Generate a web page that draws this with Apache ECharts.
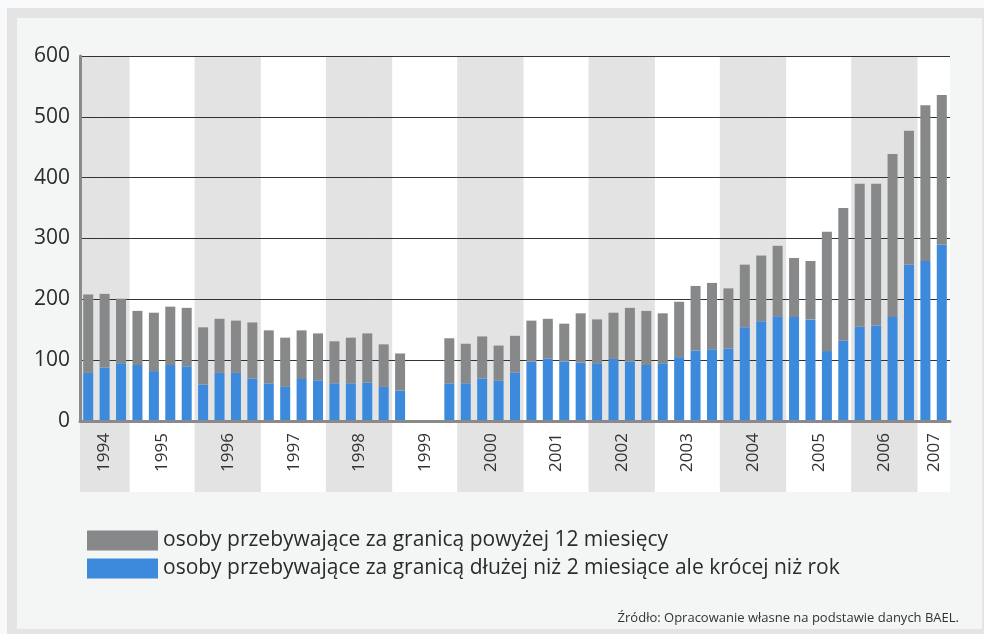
<!DOCTYPE html>
<html>
<head>
<meta charset="utf-8">
<script src="https://cdn.jsdelivr.net/npm/echarts@6/dist/echarts.min.js"></script>
<style>
  html, body { margin: 0; padding: 0; width: 984px; height: 634px; overflow: hidden; background: #f8f9fa; }
  .frame { position: absolute; left: 7px; top: 8px; width: 965px; height: 611px; border: 10px solid #e4e4e4; background: #f4f5f5; }
  #chart { position: absolute; left: 0; top: 0; width: 984px; height: 634px; }
</style>
</head>
<body>
<div class="frame"></div>
<div id="chart"></div>
<script>
// lata i kwartały (1994 od II kw., 2007 do II kw.)
var years = ['1994', '1995', '1996', '1997', '1998', '1999', '2000', '2001', '2002', '2003', '2004', '2005', '2006', '2007']
var quarters = [
  ['II', 'III', 'IV'],
  ['I', 'II', 'III', 'IV'], ['I', 'II', 'III', 'IV'], ['I', 'II', 'III', 'IV'], ['I', 'II', 'III', 'IV'],
  ['I', 'II', 'III', 'IV'], ['I', 'II', 'III', 'IV'], ['I', 'II', 'III', 'IV'], ['I', 'II', 'III', 'IV'],
  ['I', 'II', 'III', 'IV'], ['I', 'II', 'III', 'IV'], ['I', 'II', 'III', 'IV'], ['I', 'II', 'III', 'IV'],
  ['I', 'II']
]
var shadedYears = ['1994', '1996', '1998', '2000', '2002', '2004', '2006']

var nameLong = 'osoby przebywające za granicą powyżej 12 miesięcy'
var nameShort = 'osoby przebywające za granicą dłużej niż 2 miesiące ale krócej niż rok'

// tys. osób
var shortStay = [
  79, 88, 95,
  92, 82, 92, 90,
  60, 79, 79, 70,
  62, 56, 69, 67,
  62, 62, 63, 56,
  50, null, null, 62,
  62, 70, 66, 80,
  98, 103, 98, 96,
  95, 102, 98, 92,
  95, 105, 116, 118,
  119, 154, 164, 172,
  171, 167, 115, 132,
  155, 157, 171, 257,
  263, 290
]
var longStay = [
  129, 121, 106,
  89, 96, 96, 96,
  94, 89, 86, 92,
  87, 81, 80, 77,
  69, 75, 81, 70,
  61, null, null, 74,
  65, 69, 58, 60,
  67, 65, 62, 81,
  72, 76, 88, 89,
  82, 91, 106, 109,
  99, 103, 108, 116,
  97, 96, 196, 218,
  235, 233, 268, 220,
  256, 246
]

var fontMain = '"Open Sans", sans-serif'

function $each(arr, fn) { for (var k = 0; k < arr.length; k++) fn(k, arr[k]) }

// kategorie osi X i tło pasów lat
var categories = [], bandData = [], labelSlots = {}
$each(years, function (i, year) {
  var qs = quarters[i]
  var mid = Math.floor((qs.length - 1) / 2)
  $each(qs, function (j, q) {
    var item = { value: year + ' ' + q }
    if (j === mid) {
      labelSlots[categories.length] = year
      if (qs.length % 2 === 1) item.textStyle = { verticalAlign: 'middle' }
    }
    categories.push(item)
    bandData.push(shadedYears.indexOf(year) > -1 ? 1 : 0)
  })
})

var chart = echarts.init(document.getElementById('chart'))
var option = {
  animation: false,
  textStyle: { fontFamily: fontMain },
  grid: [
    { left: 80, right: 34, top: 56, bottom: 213, containLabel: false },
    { left: 80, right: 34, top: 56, bottom: 142, show: true, backgroundColor: '#ffffff', borderWidth: 0, z: 0 }
  ],
  legend: {
    orient: 'vertical',
    left: 82,
    top: 525,
    itemWidth: 71,
    itemHeight: 20,
    itemGap: 7,
    icon: 'rect',
    data: [nameLong, nameShort],
    textStyle: { fontSize: 21, color: '#2b2b2b', fontFamily: fontMain }
  },
  title: {
    text: 'Źródło: Opracowanie własne na podstawie danych BAEL.',
    right: 20,
    top: 607,
    textStyle: { fontSize: 13, fontWeight: 'normal', color: '#333', fontFamily: fontMain }
  },
  xAxis: [
    {
      type: 'category',
      gridIndex: 0,
      data: categories,
      z: 5,
      axisLine: { lineStyle: { color: '#8a8a8a', width: 3 } },
      axisTick: { show: false },
      axisLabel: {
        interval: 0,
        rotate: 90,
        margin: 12,
        fontSize: 17,
        color: '#333',
        verticalAlign: 'top',
        formatter: function (value, index) { return labelSlots[index] || '' }
      }
    },
    {
      type: 'category',
      gridIndex: 1,
      data: categories,
      show: false
    }
  ],
  yAxis: [
    {
      type: 'value',
      gridIndex: 0,
      min: 0,
      max: 600,
      interval: 100,
      z: 2,
      axisLine: { show: true, lineStyle: { color: '#8a8a8a', width: 3 } },
      axisTick: { show: false },
      axisLabel: { fontSize: 21, color: '#2b2b2b', margin: 10 },
      splitLine: { lineStyle: { color: '#333', width: 1 } }
    },
    {
      type: 'value',
      gridIndex: 1,
      min: 0,
      max: 1,
      show: false
    }
  ],
  series: [
    {
      name: 'tło',
      type: 'bar',
      xAxisIndex: 1,
      yAxisIndex: 1,
      data: bandData,
      barWidth: '104%',
      z: 1,
      silent: true,
      itemStyle: { color: '#e3e3e3' }
    },
    {
      name: nameShort,
      type: 'bar',
      stack: 'osoby',
      data: shortStay,
      barWidth: 10,
      z: 3,
      itemStyle: { color: '#3d89db' }
    },
    {
      name: nameLong,
      type: 'bar',
      stack: 'osoby',
      data: longStay,
      barWidth: 10,
      z: 3,
      itemStyle: { color: '#878889' }
    }
  ]
}
chart.setOption(option)
</script>
</body>
</html>
